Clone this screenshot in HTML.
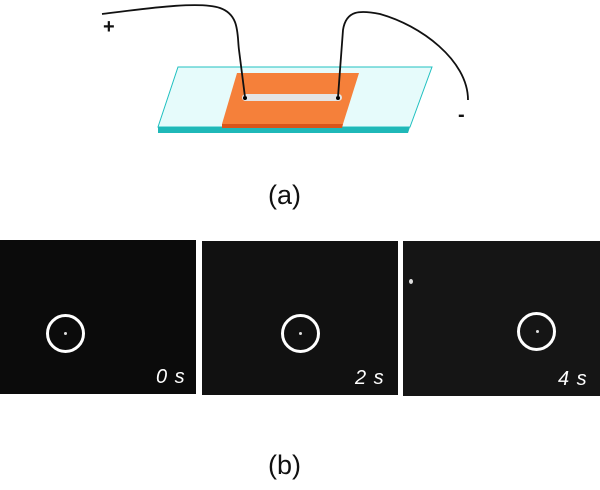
<!DOCTYPE html>
<html><head><style>
body{margin:0;width:600px;height:490px;background:#fff;overflow:hidden;position:relative;font-family:"Liberation Sans",sans-serif}
.p{position:absolute;background:#0b0b0b}
.l{position:absolute;color:#fff;font-style:italic;font-size:20px;letter-spacing:1px;line-height:20px}
.c{position:absolute;border:3px solid #fff;border-radius:50%;width:33px;height:33px}
.d{position:absolute;width:3px;height:3px;background:#ddd;border-radius:50%}
.t{position:absolute;font-size:27px;color:#111}
</style></head><body>
<svg width="600" height="230" style="position:absolute;left:0;top:0">
<polygon points="178,67 432,67 410,127 158,127" fill="#e6fbfb" stroke="#20c0c0" stroke-width="1"/>
<polygon points="158,127 410,127 408,133 158,133" fill="#1fb8b8"/>
<polygon points="237,73 359,73 343,124 222,124" fill="#f5803a"/>
<polygon points="222,124 343,124 342,128 222,128" fill="#d9551a"/>
<rect x="242" y="94" width="100" height="7" rx="3.5" fill="#e4e4e4"/>
<circle cx="245" cy="98" r="2" fill="#000"/><circle cx="338" cy="98" r="2" fill="#000"/>
<path d="M102,14 C150,8 200,1 220,8 C240,15 237,35 239,50 L245,97" fill="none" stroke="#111" stroke-width="1.8"/>
<path d="M338,97 L343,30 C346,10 360,10 380,14 C420,25 468,60 468,100" fill="none" stroke="#111" stroke-width="1.8"/>
<text x="103" y="33" font-size="20" font-weight="bold" fill="#111">+</text>
<text x="458" y="121" font-size="20" font-weight="bold" fill="#111">-</text>
</svg>
<div class="t" style="left:268px;top:180px">(a)</div>
<div class="p" style="left:0;top:240px;width:196px;height:154px"></div>
<div class="p" style="left:202px;top:241px;width:196px;height:154px;background:#111"></div>
<div class="p" style="left:403px;top:241px;width:197px;height:155px;background:#151515"></div>
<div class="c" style="left:46px;top:314px"></div><div class="d" style="left:64px;top:332px"></div>
<div class="c" style="left:281px;top:314px"></div><div class="d" style="left:299px;top:332px"></div>
<div class="c" style="left:517px;top:312px"></div><div class="d" style="left:536px;top:330px"></div>
<div class="d" style="left:409px;top:279px;width:4px;height:5px"></div>
<div class="l" style="left:156px;top:367px">0 s</div>
<div class="l" style="left:355px;top:368px">2 s</div>
<div class="l" style="left:558px;top:369px">4 s</div>
<div class="t" style="left:268px;top:450px">(b)</div>
</body></html>
